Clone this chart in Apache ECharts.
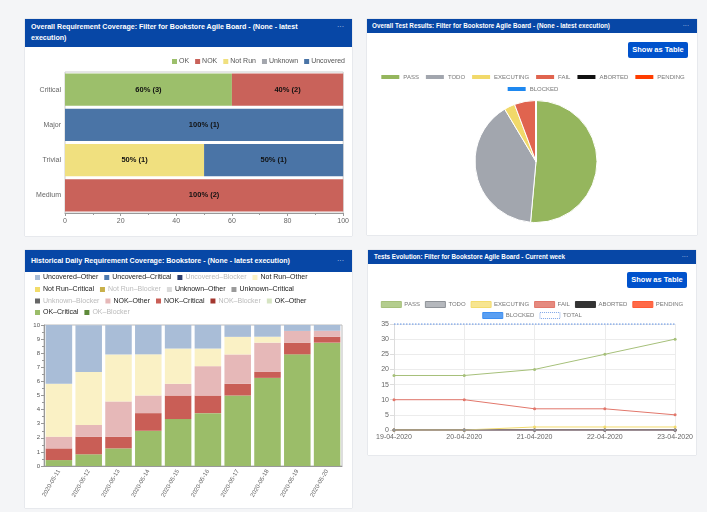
<!DOCTYPE html>
<html>
<head>
<meta charset="utf-8">
<title>Bookstore dashboard</title>
<script src="https://cdn.jsdelivr.net/npm/echarts@6/dist/echarts.min.js"></script>
<style>
  body { margin: 0; width: 707px; height: 512px; background: #f4f5f7; position: relative; overflow: hidden;
         font-family: 'Liberation Sans', Arial, sans-serif; }
  .panel { position: absolute; background: #fff; box-shadow: 0 0 1px rgba(9, 30, 66, .3); }
  .head { position: absolute; left: 0; top: 0; right: 0; background: #0747a6; color: #fff; font-weight: bold;
          box-sizing: border-box; overflow: hidden; }
  .dots { position: absolute; right: 8px; top: 0; color: #c9d6ee; font-weight: normal; }
  .btn { position: absolute; width: 60px; height: 16px; line-height: 16px; background: #0052cc; color: #fff;
         font-size: 7.5px; font-weight: bold; text-align: center; border-radius: 2px; }
  .chart { position: absolute; left: 0; right: 0; bottom: 0; }
</style>
</head>
<body>

<div class="panel" style="left:25px;top:19px;width:327px;height:217px">
  <div class="head" style="height:28px;font-size:7.1px;line-height:11px;padding:3px 28px 0 6px">
    Overall Requirement Coverage: Filter for Bookstore Agile Board - (None - latest execution)
    <span class="dots" style="line-height:11px;top:3px">···</span>
  </div>
  <div class="chart" id="chart1" style="top:28px"></div>
</div>

<div class="panel" style="left:367px;top:19px;width:330px;height:216px">
  <div class="head" style="height:14px;font-size:6.3px;line-height:14px;padding-left:5px">
    Overall Test Results: Filter for Bookstore Agile Board - (None - latest execution)
    <span class="dots" style="line-height:14px">···</span>
  </div>
  <div class="btn" style="left:261px;top:23px">Show as Table</div>
  <div class="chart" id="chart2" style="top:14px"></div>
</div>

<div class="panel" style="left:25px;top:250px;width:327px;height:258px">
  <div class="head" style="height:22px;font-size:7.1px;line-height:22px;padding-left:6px">
    Historical Daily Requirement Coverage: Bookstore - (None - latest execution)
    <span class="dots" style="line-height:22px">···</span>
  </div>
  <div class="chart" id="chart3" style="top:22px"></div>
</div>

<div class="panel" style="left:368px;top:250px;width:328px;height:205px">
  <div class="head" style="height:14px;font-size:6.3px;line-height:14px;padding-left:6px">
    Tests Evolution: Filter for Bookstore Agile Board - Current week
    <span class="dots" style="line-height:14px">···</span>
  </div>
  <div class="btn" style="left:259px;top:22px">Show as Table</div>
  <div class="chart" id="chart4" style="top:14px"></div>
</div>

<script>
// ---- overall requirement coverage (percent + count per priority)
var priorities = ['Critical', 'Major', 'Trivial', 'Medium']
var okPct = [60, 0, 0, 0]
var okCnt = [3, 0, 0, 0]
var nokPct = [40, 0, 0, 100]
var nokCnt = [2, 0, 0, 2]
var notRunPct = [0, 0, 50, 0]
var notRunCnt = [0, 0, 1, 0]
var unknownPct = [0, 0, 0, 0]
var unknownCnt = [0, 0, 0, 0]
var uncoveredPct = [0, 100, 50, 0]
var uncoveredCnt = [0, 1, 1, 0]
var pctTicks = [0, 20, 40, 60, 80, 100]

// ---- overall test results
var statusNames = ['PASS', 'TODO', 'EXECUTING', 'FAIL', 'ABORTED', 'PENDING', 'BLOCKED']
var statusCounts = [18, 14, 1, 2, 0, 0, 0]

// ---- historical daily coverage
var days = ['2020-05-11', '2020-05-12', '2020-05-13', '2020-05-14', '2020-05-15',
            '2020-05-16', '2020-05-17', '2020-05-18', '2020-05-19', '2020-05-20']
var okCritical = [0.42, 0.83, 1.25, 2.5, 3.33, 3.75, 5.0, 6.25, 7.92, 8.75]
var okOther = [0, 0, 0, 0, 0, 0, 0, 0, 0, 0]
var nokCritical = [0.83, 1.25, 0.83, 1.25, 1.67, 1.25, 0.83, 0.42, 0.83, 0.42]
var nokOther = [0.83, 0.83, 2.5, 1.25, 0.83, 2.08, 2.08, 2.08, 0.83, 0.42]
var unknownCritical = [0, 0, 0, 0, 0, 0, 0, 0, 0, 0]
var unknownOther = [0, 0, 0, 0, 0, 0, 0, 0, 0, 0]
var notRunCritical = [0, 0, 0, 0, 0, 0, 0, 0, 0, 0]
var notRunOther = [3.75, 3.75, 3.33, 2.92, 2.5, 1.25, 1.25, 0.42, 0, 0]
var uncoveredCritical = [0, 0, 0, 0, 0, 0, 0, 0, 0, 0]
var uncoveredOther = [4.17, 3.33, 2.08, 2.08, 1.67, 1.67, 0.83, 0.83, 0.42, 0.42]
var blockerZero = [0, 0, 0, 0, 0, 0, 0, 0, 0, 0]

// ---- tests evolution
var weekDays = ['19-04-2020', '20-04-2020', '21-04-2020', '22-04-2020', '23-04-2020']
var passLine = [18, 18, 20, 25, 30]
var todoLine = [0, 0, 0, 0, 0]
var executingLine = [0, 0, 1, 1, 1]
var failLine = [10, 10, 7, 7, 5]
var abortedLine = [0, 0, 0, 0, 0]
var pendingLine = [0, 0, 0, 0, 0]
var blockedLine = [0, 0, 0, 0, 0]
var totalLine = [35, 35, 35, 35, 35]

var FONT = 'Liberation Sans, Arial, sans-serif'

// chart 1
var chart1 = echarts.init(document.getElementById('chart1'))
function covBar(name, pct, cnt, color) {
  return {
    name: name, type: 'bar', stack: 'cov', data: pct, barCategoryGap: '8%',
    itemStyle: { color: color },
    label: {
      show: true, color: '#111', fontSize: 7.5, fontWeight: 'bold', fontFamily: FONT,
      formatter: function (p) { return p.value > 0 ? p.value + '% (' + cnt[p.dataIndex] + ')' : '' }
    }
  }
}
chart1.setOption({
  animation: false,
  legend: {
    right: 7, top: 11, padding: 0, icon: 'rect', itemWidth: 5, itemHeight: 5, itemGap: 6,
    textStyle: { fontSize: 7, color: '#555', fontFamily: FONT, padding: [0, 0, 0, -3] },
    data: ['OK', 'NOK', 'Not Run', 'Unknown', 'Uncovered']
  },
  grid: { left: 40, right: 7, top: 25, bottom: 23, show: true, borderColor: '#ccc' },
  xAxis: {
    type: 'value', min: pctTicks[0], max: pctTicks[pctTicks.length - 1], interval: 20,
    splitLine: { show: false },
    axisLine: { show: true, lineStyle: { color: '#999' } },
    axisTick: { show: true, length: 3, lineStyle: { color: '#999' } },
    minorTick: { show: true, splitNumber: 2, length: 2, lineStyle: { color: '#999' } },
    axisLabel: { fontSize: 7, color: '#666', margin: 5, fontFamily: FONT }
  },
  yAxis: {
    type: 'category', inverse: true, data: priorities,
    axisLine: { show: false }, axisTick: { show: false },
    axisLabel: { fontSize: 7, color: '#666', margin: 4, fontFamily: FONT }
  },
  series: [
    covBar('OK', okPct, okCnt, '#9cbf6b'),
    covBar('NOK', nokPct, nokCnt, '#c9625a'),
    covBar('Not Run', notRunPct, notRunCnt, '#f0e07f'),
    covBar('Unknown', unknownPct, unknownCnt, '#a3a6ad'),
    covBar('Uncovered', uncoveredPct, uncoveredCnt, '#4a74a6')
  ]
})

// chart 2
var statusColors = ['#95b65d', '#a2a6ae', '#f1d96a', '#e0644f', '#111111', '#ff3d00', '#1e88f0']
var chart2 = echarts.init(document.getElementById('chart2'))
var legendStyle2 = {
  left: 'center', padding: 0, icon: 'rect', itemWidth: 20, itemHeight: 6, itemGap: 5,
  textStyle: { fontSize: 6, color: '#777', fontFamily: FONT, padding: [0, 0, 0, -2] }
}
chart2.setOption({
  animation: false,
  color: statusColors,
  legend: [
    Object.assign({ top: 40, data: statusNames.slice(0, 6) }, legendStyle2),
    Object.assign({ top: 52, data: statusNames.slice(6) }, legendStyle2)
  ],
  series: [{
    type: 'pie', center: [169, 128.5], radius: 61, startAngle: 90,
    label: { show: false }, labelLine: { show: false },
    itemStyle: { borderColor: '#fff', borderWidth: 1 },
    data: statusNames.map(function (n, i) { return { name: n, value: statusCounts[i] } })
  }]
})

// chart 3
var chart3 = echarts.init(document.getElementById('chart3'))
var histSeries = [
  ['OK–Critical', okCritical, '#9bbd69'],
  ['OK–Other', okOther, '#d6e4c3'],
  ['OK–Blocker', blockerZero, '#5e8a3a'],
  ['NOK–Critical', nokCritical, '#c95e56'],
  ['NOK–Other', nokOther, '#e6b8b8'],
  ['NOK–Blocker', blockerZero, '#a3372f'],
  ['Unknown–Critical', unknownCritical, '#9a9a9a'],
  ['Unknown–Other', unknownOther, '#dadada'],
  ['Unknown–Blocker', blockerZero, '#666666'],
  ['Not Run–Critical', notRunCritical, '#f2dc6a'],
  ['Not Run–Other', notRunOther, '#faf1c5'],
  ['Not Run–Blocker', blockerZero, '#c8b04a'],
  ['Uncovered–Critical', uncoveredCritical, '#4f7bb0'],
  ['Uncovered–Other', uncoveredOther, '#a9bdd7'],
  ['Uncovered–Blocker', blockerZero, '#2c3e6e']
]
var legendRows3 = [
  ['Uncovered–Other', 'Uncovered–Critical', 'Uncovered–Blocker', 'Not Run–Other'],
  ['Not Run–Critical', 'Not Run–Blocker', 'Unknown–Other', 'Unknown–Critical'],
  ['Unknown–Blocker', 'NOK–Other', 'NOK–Critical', 'NOK–Blocker', 'OK–Other'],
  ['OK–Critical', 'OK–Blocker']
]
var rowTops3 = [2, 14, 25.5, 37]
chart3.setOption({
  animation: false,
  legend: legendRows3.map(function (row, r) {
    return {
      left: 10, top: rowTops3[r], padding: 0, icon: 'rect', itemWidth: 5, itemHeight: 5, itemGap: 6,
      textStyle: { fontSize: 7, color: '#222', fontFamily: FONT, padding: [0, 0, 0, -2] },
      data: row.map(function (n) {
        return n.indexOf('Blocker') > 0 ? { name: n, textStyle: { color: '#bbb' } } : n
      })
    }
  }),
  grid: { left: 19, right: 10, top: 53, bottom: 42, show: true, borderColor: '#bbb' },
  xAxis: {
    type: 'category', data: days,
    axisLine: { lineStyle: { color: '#999' } },
    axisTick: { alignWithLabel: true, length: 3, lineStyle: { color: '#999' } },
    axisLabel: { rotate: 60, fontSize: 6, color: '#666', margin: 4, fontFamily: FONT }
  },
  yAxis: {
    type: 'value', min: 0, max: 10, interval: 1,
    splitLine: { show: false },
    axisLine: { show: true, lineStyle: { color: '#999' } },
    axisTick: { show: true, length: 3, lineStyle: { color: '#999' } },
    minorTick: { show: true, splitNumber: 2, length: 2, lineStyle: { color: '#999' } },
    axisLabel: { fontSize: 6, color: '#555', margin: 4, fontFamily: FONT }
  },
  series: histSeries.map(function (s) {
    return { name: s[0], type: 'bar', stack: 'hist', data: s[1], barCategoryGap: '11%', itemStyle: { color: s[2] } }
  })
})

// chart 4
var chart4 = echarts.init(document.getElementById('chart4'))
var lineDefs = [
  ['PASS', passLine, '#a6c07a', '#b4cd8e'],
  ['TODO', todoLine, '#8f9398', '#b5b8bd'],
  ['EXECUTING', executingLine, '#f3dc6e', '#f7e591'],
  ['FAIL', failLine, '#e2776b', '#e58a7f'],
  ['ABORTED', abortedLine, '#333333', '#333333'],
  ['PENDING', pendingLine, '#ff5b36', '#ff6a48'],
  ['BLOCKED', blockedLine, '#3d8ef0', '#5a9ff2'],
  ['TOTAL', totalLine, '#7fa6e8', '#ffffff']
]
var legendStyle4 = {
  left: 'center', padding: 0, icon: 'rect', itemWidth: 20, itemHeight: 6, itemGap: 5,
  textStyle: { fontSize: 6, color: '#777', fontFamily: FONT, padding: [0, 0, 0, -2] }
}
function legItem(d) {
  return {
    name: d[0],
    itemStyle: { color: d[3], borderColor: d[2], borderWidth: 1, borderType: d[0] === 'TOTAL' ? 'dotted' : 'solid' }
  }
}
chart4.setOption({
  animation: false,
  legend: [
    Object.assign({ top: 37, data: lineDefs.slice(0, 6).map(legItem) }, legendStyle4),
    Object.assign({ top: 48, data: lineDefs.slice(6).map(legItem) }, legendStyle4)
  ],
  grid: { left: 26, right: 18, top: 60, bottom: 25 },
  xAxis: {
    type: 'category', data: weekDays, boundaryGap: false,
    axisLine: { lineStyle: { color: '#ddd' } },
    axisTick: { length: 4, lineStyle: { color: '#ddd' } },
    splitLine: { show: true, lineStyle: { color: '#ececec' } },
    axisLabel: { fontSize: 7, color: '#666', margin: 4, fontFamily: FONT }
  },
  yAxis: {
    type: 'value', min: 0, max: 35, interval: 5,
    axisLine: { show: true, lineStyle: { color: '#ddd' } },
    axisTick: { show: true, length: 4, lineStyle: { color: '#ddd' } },
    splitLine: { lineStyle: { color: '#ececec' } },
    axisLabel: { fontSize: 7, color: '#666', margin: 5, fontFamily: FONT }
  },
  series: lineDefs.map(function (d, i) {
    return {
      name: d[0], type: 'line', data: d[1], z: 20 - i,
      symbol: d[0] === 'TOTAL' ? 'none' : 'circle', symbolSize: 3,
      lineStyle: { color: d[2], width: d[0] === 'TOTAL' ? 1.5 : 1, type: d[0] === 'TOTAL' ? 'dotted' : 'solid' },
      itemStyle: { color: d[2] }
    }
  })
})
</script>
</body>
</html>
